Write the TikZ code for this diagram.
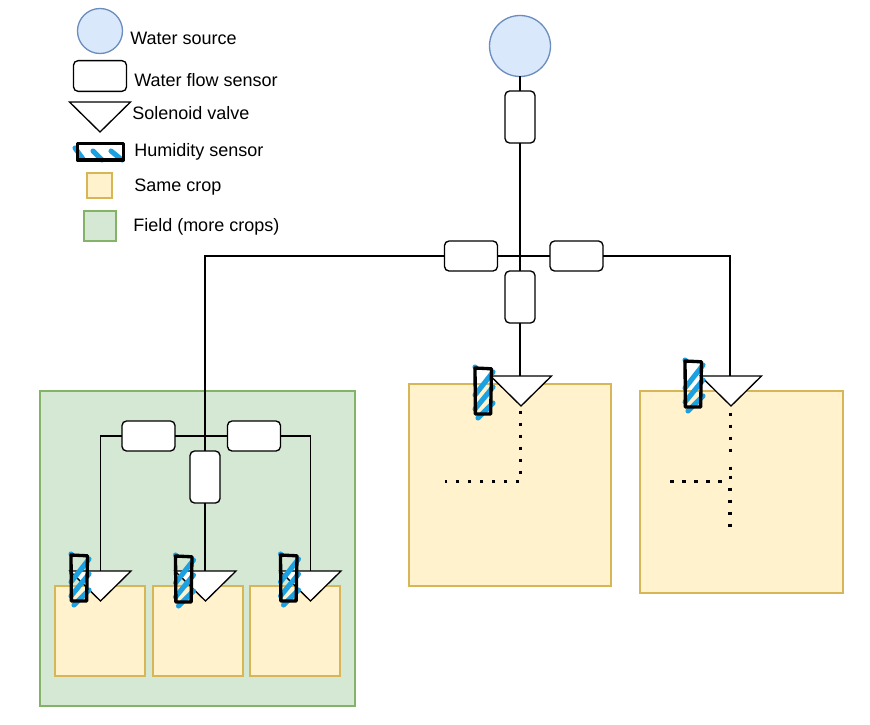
\documentclass[tikz,border=0pt]{standalone}
\usepackage{fontspec}
\setmainfont{Liberation Sans}
\definecolor{bluefill}{HTML}{DAE8FC}
\definecolor{bluestroke}{HTML}{6C8EBF}
\definecolor{yellowfill}{HTML}{FFF2CC}
\definecolor{yellowstroke}{HTML}{D6B656}
\definecolor{greenfill}{HTML}{D5E8D4}
\definecolor{greenstroke}{HTML}{82B366}
\definecolor{hachure}{HTML}{1BA1E2}
\tikzset{
  source/.style={circle,draw=bluestroke,fill=bluefill,line width=1pt,inner sep=0pt,outer sep=0pt},
  flowbase/.style={rectangle,draw=black,fill=white,rounded corners=3.4pt,line width=1pt,inner sep=0pt,outer sep=0pt},
  flowh/.style={flowbase,minimum width=39.75pt,minimum height=22.5pt},
  flowv/.style={flowbase,minimum width=22.5pt,minimum height=39pt},
  crop/.style={rectangle,draw=yellowstroke,fill=yellowfill,line width=1.125pt,inner sep=0pt,outer sep=0pt},
  field/.style={rectangle,draw=greenstroke,fill=greenfill,line width=1.125pt,inner sep=0pt,outer sep=0pt},
  valvebox/.style={rectangle,inner sep=0pt,outer sep=0pt,minimum width=45.75pt,minimum height=22.5pt},
  valveline/.style={draw=black,fill=white,line width=1pt,line join=miter},
  pipe/.style={draw=black,line width=1pt},
  dots/.style={draw=black,line width=2.5pt,dash pattern=on 2.5pt off 6.5pt},
  humbox/.style={rectangle,inner sep=0pt,outer sep=0pt,minimum width=12pt,minimum height=34.5pt},
  hatch/.style={draw=hachure,line width=3.8pt,line cap=round},
  sketch/.style={draw=black,line width=2.5pt,line cap=round,line join=round},
  legendtext/.style={anchor=base west,inner sep=0pt,font=\fontsize{13.5pt}{16pt}\selectfont}
}
% vertical humidity sensor: name, left x, top y
\newcommand{\humidv}[3]{%
  \node[humbox,anchor=north west] (#1) at (#2,#3) {};
  \draw[hatch] (#2,#3+27) -- (#2+18,#3+4);
  \draw[hatch] (#2,#3+41) -- (#2+18,#3+19);
  \draw[hatch] (#2+3,#3+50) -- (#2+18,#3+35);
  \draw[hatch] (#2,#3-1) -- (#2+1,#3);
  \draw[sketch] (#1.north west) -- ([xshift=.4pt,yshift=-.6pt]#1.north east)
     -- ([xshift=-.3pt]#1.south east) -- ([xshift=.3pt]#1.south west) -- cycle;
}
\begin{document}
\begin{tikzpicture}[x=.75pt,y=-.75pt]
\useasboundingbox (0,0) rectangle (870,724);
% areas
\node[field,minimum width=236.25pt,minimum height=236.25pt] (fieldarea) at (197.5,548.5) {};
\node[crop,minimum width=151.5pt,minimum height=151.5pt] (cropA) at (510,485) {};
\node[crop,minimum width=152.25pt,minimum height=151.5pt] (cropB) at (741.5,492) {};
\node[crop,minimum width=67.5pt,minimum height=67.5pt] (cropC) at (100,631) {};
\node[crop,minimum width=67.5pt,minimum height=67.5pt] (cropD) at (198,631) {};
\node[crop,minimum width=67.5pt,minimum height=67.5pt] (cropE) at (295,631) {};
% dotted lines
\coordinate (dA) at (520.5,481.7);
\coordinate (dB) at (721.5,481.7);
\coordinate (dBend) at (670,481.7);
\coordinate (dAend) at (445,481.7);
\coordinate (vBa) at (730.5,412.5);
\coordinate (vBb) at (730.5,452);
\coordinate (vBc) at (730.5,466.5);
\coordinate (vBd) at (730.5,479);
\coordinate (vBe) at (730,487.5);
\coordinate (vBf) at (730,527);
% main nodes
\node[source,minimum size=45.75pt] (src) at (520,46) {};
\node[flowv] (fsTop) at (520,117) {};
\node[flowh] (fsL) at (471,256) {};
\node[flowh] (fsR) at (576.5,256) {};
\node[flowv] (fsMid) at (520,297) {};
\node[valvebox,anchor=north] (vA) at (521,376) {};
\node[valvebox,anchor=north] (vB) at (731,376) {};
\draw[dots,dash phase=5.6pt] (vA.south -| dA) -- (dA);
\draw[dots] ([xshift=-.8pt]dA) -- (dAend);
\draw[dots] (vBa) -- (vBb);
\draw[dots,dash pattern=on 2.5pt off 4.25pt] (vBc) -- (vBd);
\draw[dots] (vBe) -- (vBf);
\draw[dots] (dB) -- (dBend);
\coordinate (jG) at (205,436);
\coordinate (jB) at (730,376);
\draw[pipe] (src) -- (fsTop);
\draw[pipe] (fsTop) -- (fsMid);
\draw[pipe] (fsMid.south) -- (vA.north -| fsMid);
\draw[pipe] (fsL) -- (fsR);
\draw[pipe] (fsR.east) -| (jB);
\draw[pipe] (fsL.west) -| (jG);
\draw[valveline] (vA.north west) -- (vA.north east) -- (vA.south) -- cycle;
\draw[valveline] (vB.north west) -- (vB.north east) -- (vB.south) -- cycle;
\humidv{hA}{475}{368}
\humidv{hB}{685}{361}
% field
\node[flowh] (fsGL) at (148.5,436) {};
\node[flowh] (fsGR) at (254,436) {};
\node[flowv] (fsGV) at (205,477) {};
\node[valvebox,anchor=north] (vC) at (100.5,571) {};
\node[valvebox,anchor=north] (vD) at (205.5,571) {};
\node[valvebox,anchor=north] (vE) at (310.5,571) {};
\draw[pipe] (fsGL) -- (fsGR);
\draw[pipe] (jG) -- (fsGV);
\draw[pipe] (fsGV) -- (vD.north -| fsGV);
\draw[pipe] (fsGL.west) -| (vC.north);
\draw[pipe] (fsGR.east) -| (vE.north);
\draw[valveline] (vC.north west) -- (vC.north east) -- (vC.south) -- cycle;
\draw[valveline] (vD.north west) -- (vD.north east) -- (vD.south) -- cycle;
\draw[valveline] (vE.north west) -- (vE.north east) -- (vE.south) -- cycle;
\humidv{hC}{71}{555}
\humidv{hD}{175.5}{556}
\humidv{hE}{280.5}{555}
% legend
\node[source,minimum size=33.75pt] (lSrc) at (100,31) {};
\node[flowh,minimum height=23pt] (lFlow) at (100,76) {};
\node[valvebox,anchor=north] (lValve) at (100,102) {};
\draw[valveline] (lValve.north west) -- (lValve.north east) -- (lValve.south) -- cycle;
\node[rectangle,inner sep=0pt,outer sep=0pt,minimum width=34.5pt,minimum height=12.5pt] (lHum) at (100.5,151.5) {};
\draw[hatch] (75,148) -- (83,159);
\draw[hatch] (93,151) -- (102,160);
\draw[hatch] (111,151) -- (122,160);
\draw[sketch] (lHum.north west) -- (lHum.north east) -- (lHum.south east) -- (lHum.south west) -- cycle;
\node[crop,minimum width=18.75pt,minimum height=18.75pt] (lCrop) at (99.5,185.5) {};
\node[field,minimum width=24pt,minimum height=22.5pt] (lField) at (100,226) {};
\node[legendtext] (tSrc) at (130,45) {Water source};
\node[legendtext] (tFlow) at (134,86) {Water flow sensor};
\node[legendtext] (tValve) at (132,119) {Solenoid valve};
\node[legendtext] (tHum) at (134,156) {Humidity sensor};
\node[legendtext] (tCrop) at (134,191) {Same crop};
\node[legendtext] (tField) at (133,231) {Field (more crops)};
\end{tikzpicture}
\end{document}
